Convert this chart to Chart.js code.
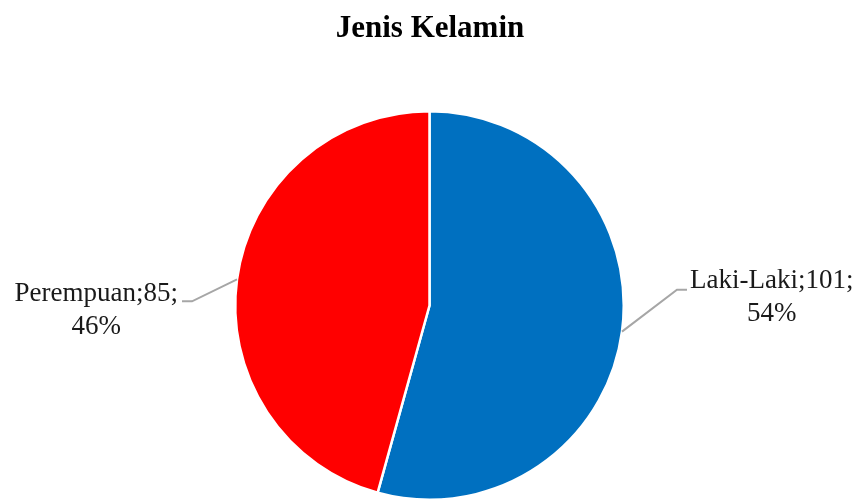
<!DOCTYPE html>
<html>
<head>
<meta charset="utf-8">
<script src="https://cdn.jsdelivr.net/npm/chart.js@4/dist/chart.umd.min.js"></script>
<style>
html,body{margin:0;padding:0;background:#fff;}
canvas{display:block;}
</style>
</head>
<body>
<canvas id="c" width="859" height="501"></canvas>
<script>
const title = "Jenis Kelamin";
const categories = ["Laki-Laki", "Perempuan"];
const values = [101, 85];
const colors = ["#0070C0", "#FF0000"];
// label leader geometry (elbow offset from slice edge, direction of horizontal tail)
const leaderOffsets = [[55, -42, 1], [-45, 22, -1]];

const total = values.reduce((a, b) => a + b, 0);

const labelPlugin = {
  id: 'labels',
  afterDraw(chart) {
    const ctx = chart.ctx;
    // title
    ctx.save();
    ctx.fillStyle = '#000';
    ctx.font = 'bold 31px "Liberation Serif", "Times New Roman", serif';
    ctx.textAlign = 'center';
    ctx.textBaseline = 'alphabetic';
    ctx.fillText(title, 430, 37);
    ctx.restore();

    const meta = chart.getDatasetMeta(0);
    meta.data.forEach((arc, i) => {
      const mid = (arc.startAngle + arc.endAngle) / 2;
      const r = arc.outerRadius;
      const p0x = arc.x + Math.cos(mid) * r;
      const p0y = arc.y + Math.sin(mid) * r;
      const [dx, dy, side] = leaderOffsets[i];
      const ex = p0x + dx, ey = p0y + dy;
      const tx = ex + side * 10;
      ctx.save();
      ctx.strokeStyle = '#A6A6A6';
      ctx.lineWidth = 2;
      ctx.beginPath();
      ctx.moveTo(p0x, p0y);
      ctx.lineTo(ex, ey);
      ctx.lineTo(tx, ey);
      ctx.stroke();

      const pct = Math.round(values[i] / total * 100) + '%';
      const line1 = categories[i] + ';' + values[i] + ';';
      ctx.font = '27px "Liberation Serif", "Times New Roman", serif';
      ctx.fillStyle = '#1a1a1a';
      ctx.textBaseline = 'alphabetic';
      const w = ctx.measureText(line1).width;
      const left = side > 0 ? tx + 3 : tx - 4 - w;
      const cx = left + w / 2;
      const base = ey + (side > 0 ? -2 : 0);
      ctx.textAlign = 'center';
      ctx.fillText(line1, cx, base);
      ctx.fillText(pct, cx, base + 33);
      ctx.restore();
    });
  }
};

new Chart(document.getElementById('c'), {
  type: 'pie',
  data: {
    labels: categories,
    datasets: [{
      data: values,
      backgroundColor: colors,
      borderColor: '#ffffff',
      borderWidth: 2.5
    }]
  },
  options: {
    responsive: false,
    animation: false,
    layout: { padding: { top: 110, bottom: 0, left: 234, right: 234 } },
    plugins: {
      legend: { display: false },
      title: { display: false },
      tooltip: { enabled: false }
    }
  },
  plugins: [labelPlugin]
});
</script>
</body>
</html>
